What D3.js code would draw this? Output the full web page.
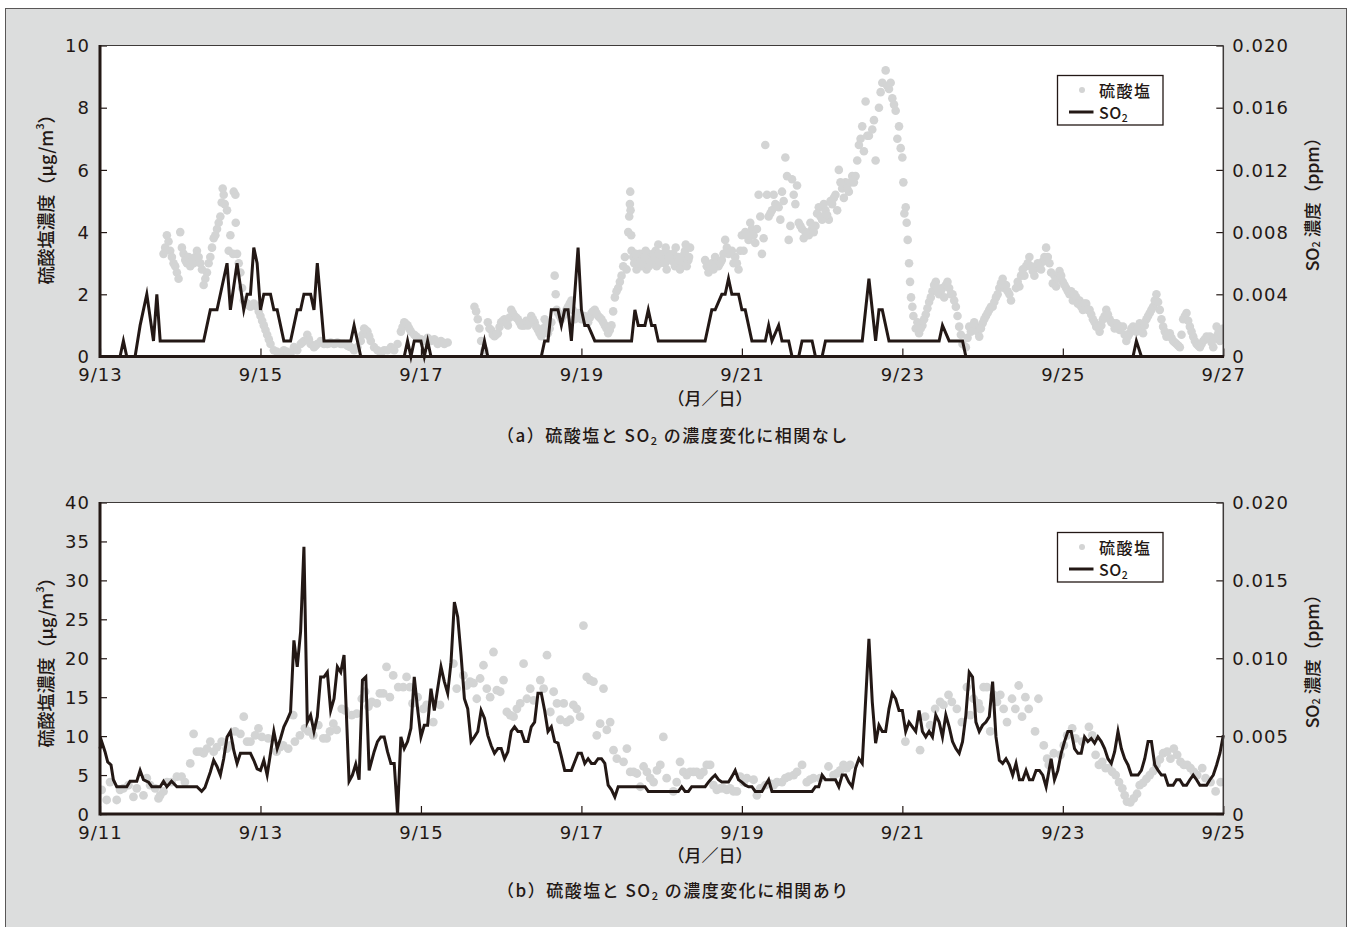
<!DOCTYPE html>
<html><head><meta charset="utf-8">
<script src="https://cdn.jsdelivr.net/npm/d3@7"></script>
<style>
body{margin:0;background:#fff;}
svg{display:block;}
</style></head><body>
<svg id="chart" width="1352" height="927"></svg>
<script>
// ---------------- DATA ----------------
// hours counted from the first date label of each panel (0..336 = 14 days)
const topDateLabels = ["9/13","9/15","9/17","9/19","9/21","9/23","9/25","9/27"];
const bottomDateLabels = ["9/11","9/13","9/15","9/17","9/19","9/21","9/23","9/25"];
const dateTickHours = [0,48,96,144,192,240,288,336];
const topLeftTicks = [0,2,4,6,8,10];
const topRightTicks = [0,0.004,0.008,0.012,0.016,0.020];
const bottomLeftTicks = [0,5,10,15,20,25,30,35,40];
const bottomRightTicks = [0,0.005,0.010,0.015,0.020];

// (a) sulfate, µg/m3, one value per hour (null = no data)
const topSulfateHourly = [
null,null,null,null,null,null,null,null,null,null,null,null,
null,null,null,null,null,null,null,3.3,3.9,3.4,3.0,2.7,
4.0,3.3,3.0,2.9,3.0,3.4,3.0,2.3,2.7,3.2,3.8,4.1,
4.5,5.2,4.7,3.9,5.3,3.3,2.7,1.8,1.7,1.6,1.7,1.6,
1.3,1.0,0.7,0.4,0.2,0.15,0.1,0.2,0.15,0.1,0.3,0.2,
0.4,0.5,0.7,0.4,0.3,0.4,0.5,0.4,0.4,0.45,0.4,0.45,
0.4,0.4,0.35,0.3,0.2,0.3,0.5,0.9,0.8,0.5,0.3,0.2,
0.1,0.2,0.2,0.3,0.2,0.4,0.8,1.1,1.0,0.8,0.7,0.6,
0.55,0.5,0.6,0.5,0.55,0.4,0.5,0.4,0.45,null,null,null,
null,null,null,null,1.6,1.2,0.5,0.2,1.1,0.85,0.65,0.75,
1.1,1.2,1.0,1.5,1.3,1.2,1.0,1.0,1.0,1.3,1.1,0.86,
0.65,1.2,0.75,1.1,2.6,1.4,1.2,1.4,1.6,1.8,1.2,1.4,
1.2,1.3,1.1,1.4,1.5,1.3,1.2,1.0,0.75,1.0,1.9,2.2,
2.6,3.2,4.0,3.4,3.0,3.1,2.9,3.2,3.3,3.0,3.1,3.6,
3.2,3.0,3.3,3.1,2.9,3.2,3.0,3.4,3.1,null,null,null,
null,3.1,2.7,3.0,3.2,2.9,3.1,3.75,3.3,3.4,3.2,2.8,
3.9,4.0,3.75,4.1,3.65,5.2,3.3,6.8,4.5,4.7,4.9,4.8,
5.3,6.4,3.75,5.7,4.9,4.3,4.1,4.0,3.9,4.1,4.2,4.8,
4.4,4.7,4.4,4.9,5.2,6.0,5.4,5.6,5.3,5.8,5.8,6.8,
7.4,8.2,7.1,7.3,6.3,8.0,8.8,9.2,8.6,8.3,7.9,7.4,
6.4,4.8,3.0,1.6,0.9,0.75,1.0,1.35,1.75,2.1,2.4,2.0,
2.2,2.3,2.2,2.0,1.6,0.96,0.4,0.3,0.96,0.85,0.96,0.64,
1.07,1.3,1.5,1.6,1.9,2.2,2.5,2.3,2.0,null,2.2,2.25,
2.8,2.9,3.2,2.75,2.85,2.95,3.05,3.5,3.0,2.35,2.25,2.75,
2.4,2.2,2.0,1.8,1.9,1.8,1.5,1.7,1.5,1.2,0.96,0.8,
1.2,1.5,1.2,1.07,1.07,0.85,0.96,0.5,0.75,0.96,0.8,1.07,
0.75,1.2,1.4,1.6,2.0,1.5,0.96,0.64,0.75,0.5,0.4,0.3,
1.2,1.4,0.96,0.64,0.4,0.3,0.5,0.64,0.64,0.3,0.96,0.5,
0.9
];
// (a) sulfate, additional sub-hourly readings [hour, µg/m3]
const topSulfateExtra = [
[19.5,3.5],[20.5,3.7],[21.5,3.2],[22.5,2.9],[23.5,2.5],[24.5,3.5],[25.5,3.1],[26.5,3.2],[27.5,3.1],
[28.5,3.2],[29.5,3.2],[30.5,2.8],[31.5,2.5],[32.5,3.0],[33.5,3.5],[34.5,3.9],[35.5,4.3],
[36.4,4.95],[36.7,5.4],[37.3,4.9],[38.5,3.4],[40.5,5.2],[40.6,4.3],[39.8,3.3],[41.5,3.0],[42.5,2.2],
[43.5,1.75],[44.5,1.65],[45.5,1.65],[46.5,1.65],[47.5,1.45],[48.5,1.15],[49.5,0.85],[50.5,0.55],
[60.5,0.45],[62.5,0.55],[64.5,0.35],[66.5,0.45],[68.5,0.42],[70.5,0.42],[72.5,0.4],[74.5,0.32],
[78.5,0.7],[79.5,0.85],[80.5,0.65],[90.5,0.95],[91.5,1.05],[92.5,0.9],[94.5,0.65],[96.5,0.5],
[98.5,0.55],[100.5,0.5],[102.5,0.45],
[112.5,1.45],[113.5,0.9],[116.5,0.9],[117.5,0.7],[118.5,0.7],[119.5,0.95],[120.5,1.15],[121.5,1.1],
[122.5,1.25],[123.5,1.4],[124.5,1.25],[125.5,1.1],[126.5,1.0],[127.5,1.15],[128.5,1.15],[129.5,1.2],
[130.5,0.95],[131.5,0.75],[132.5,0.9],[133.5,1.0],[134.5,0.9],[136.3,2.0],[136.6,1.5],[137.5,1.3],
[138.5,1.3],[139.5,1.5],[140.5,1.7],[141.4,1.5],[142.5,1.3],[143.5,1.3],[144.5,1.25],[145.5,1.2],
[146.5,1.25],[147.5,1.45],[148.5,1.4],[149.5,1.25],[150.5,1.1],[151.5,0.9],[152.5,0.85],[153.5,1.45],
[154.5,2.1],[155.5,2.4],[156.5,2.9],[157.5,2.8],
[158.3,4.5],[158.5,4.9],[158.6,5.3],[158.7,4.7],[158.9,3.9],
[159.5,3.2],[160.5,2.8],[161.5,3.3],[162.5,3.0],[163.5,2.8],[164.5,3.1],[165.5,3.3],[166.5,2.9],
[167.5,3.0],[168.5,3.3],[169.5,2.8],[170.5,3.1],[171.5,3.3],[172.5,3.1],[173.5,2.8],[174.5,3.2],
[175.5,2.9],[176.5,3.5],[160.2,3.3],[163.2,3.4],[166.2,3.4],[169.2,3.5],[172.2,3.5],[175.2,3.6],
[159.8,3.0],[161.2,3.0],[162.8,3.2],[164.2,2.9],[165.8,3.2],[167.2,3.3],[168.8,3.1],[170.2,3.2],
[171.8,3.0],[173.2,3.1],[174.8,3.3],[176.2,3.2],
[181.5,2.9],[182.5,2.9],[183.5,2.8],[184.5,3.0],[185.5,3.0],[186.5,3.3],[187.5,3.5],[188.5,3.35],
[189.5,3.0],[190.5,3.0],[191.5,3.4],[192.5,3.4],[193.5,3.9],[194.5,4.3],[195.5,3.9],[196.5,4.1],
[197.5,4.5],[198.5,3.8],[199.5,5.2],[200.5,4.6],[201.5,5.2],[202.5,4.85],[203.5,4.4],[204.5,5.0],
[205.5,5.8],[206.5,4.2],[207.5,5.2],[208.5,5.5],[209.5,4.2],[210.5,3.8],[211.5,3.95],[212.5,4.3],
[213.5,4.0],[214.5,4.6],[215.5,4.5],[216.5,4.9],[217.5,4.55],[218.5,5.0],[219.5,5.1],[220.5,4.7],
[221.5,5.6],[222.5,5.1],[223.5,5.4],[224.5,5.6],[225.5,5.6],[226.5,6.3],[227.5,7.0],
[228.5,6.6],[229.5,7.1],[231.5,7.6],[233.5,8.5],[235.5,8.7],[236.5,8.8],[237.5,8.1],[238.5,7.0],
[239.5,6.7],[240.3,5.6],[240.6,4.6],[241.3,4.3],[241.6,3.75],[242.3,2.4],[242.6,1.9],[243.3,1.3],
[244.5,1.1],
[245.5,0.9],[246.5,1.2],[247.5,1.55],[248.5,1.9],[249.5,2.3],[250.5,2.2],[251.5,2.1],[252.5,1.9],
[253.5,2.4],[254.5,2.0],[255.5,1.8],[256.5,1.3],[257.5,0.7],[259.5,0.6],[260.5,0.8],[261.5,1.1],
[262.5,0.8],[263.5,0.9],[264.5,1.2],[265.5,1.4],[266.5,1.6],[267.5,1.75],[268.5,2.0],[269.5,2.35],
[270.5,2.2],[271.5,2.1],[272.5,1.8],[274.5,2.4],[275.5,2.6],[276.5,2.6],[277.5,3.0],[278.5,2.9],
[279.5,2.6],[280.5,3.0],[281.5,2.8],[282.5,3.2],[283.5,3.2],[284.5,2.7],[285.5,2.6],[286.5,2.5],
[287.5,2.6],[288.5,2.3],[289.5,2.1],[290.5,2.1],[291.5,2.0],[292.5,1.7],[293.5,1.6],[294.5,1.7],
[295.5,1.5],[296.5,1.35],[297.5,1.1],[298.5,1.0],[299.5,1.0],[300.5,1.3],[301.5,1.35],[302.5,1.1],
[303.5,0.9],[304.5,1.0],[305.5,0.95],[306.5,0.7],[307.5,0.65],[308.5,0.9],[309.5,0.85],[310.5,0.95],
[311.5,0.9],[312.5,1.0],[313.5,1.3],[314.5,1.5],[315.5,1.8],[316.5,1.75],[317.5,1.2],[318.5,0.8],
[319.5,0.7],[320.5,0.6],[321.5,0.45],[322.5,0.35],[323.5,0.7],[324.5,1.3],[325.5,1.15],[326.5,0.8],
[327.5,0.5],[328.5,0.35],[329.5,0.4],[330.5,0.55],[331.5,0.6],[332.5,0.45],[333.5,0.6],[334.5,0.75],
[335.5,0.7]
];
// (a) SO2, ppm [hour, value]
const topSO2 = [
[0,0],[6,0],[7,0.001],[8,0],[10.5,0],[12,0.002],[14,0.004],[16,0.001],[17,0.004],[18,0.001],
[31,0.001],[33,0.003],[35,0.003],[38,0.006],[39,0.003],[41,0.006],[43,0.003],[44,0.004],[45,0.004],
[46,0.007],[47,0.006],[48,0.003],[49,0.004],[51,0.004],[52,0.003],[53,0.003],[55,0.001],[57,0.001],
[59,0.003],[60,0.003],[61,0.004],[63,0.004],[64,0.003],[65,0.006],[67,0.001],[75,0.001],[76,0.002],
[78,0],[91,0],[92,0.001],[93,0],[94,0.001],[96,0.001],[97,0],[98,0.001],[99,0],
[114,0],[115,0.001],[116,0],[132,0],[133,0.001],[134,0.001],[135,0.003],[137,0.003],[138,0.002],
[139,0.003],[140,0.003],[141,0.001],[143,0.007],[144,0.003],[145,0.002],[146,0.002],[147,0.0015],
[148,0.001],[159,0.001],[160,0.003],[161,0.002],[163,0.002],[164,0.003],[165,0.002],[166,0.002],
[167,0.001],[181,0.001],[183,0.003],[184,0.003],[186,0.004],[187,0.004],[188,0.005],[189,0.004],
[191,0.004],[192,0.003],[193,0.003],[195,0.001],[199,0.001],[200,0.002],[201,0.001],[203,0.002],
[204,0.001],[206,0.001],[207,0],[209,0],[210,0.001],[213,0.001],[214,0],[216,0],[217,0.001],
[228,0.001],[230,0.005],[232,0.001],[233,0.003],[234,0.003],[236,0.001],[251,0.001],[252,0.002],
[254,0.001],[258,0.001],[259,0],[309,0],[310,0.001],[311.5,0],[336,0]
];

// (b) sulfate, µg/m3 [hour, value]
const bottomSulfate = [
[0.5,3.1],[2,1.8],[3,4.1],[5,1.8],[6,3.1],[7,3.3],[8.5,3.7],[10,2.2],[11,3.3],[13,2.4],[14,4.6],
[15,3.7],[16.5,3.3],[17.5,2.0],[18,2.4],[19,2.9],[20,4.1],[21.4,4.1],[23,4.8],[24.4,4.8],[25.4,4.1],
[27,6.5],[28,10.3],[29,8.0],[30,8.0],[31,7.8],[32,8.4],[33,9.3],[34,8.0],[35,8.6],[36.4,9.3],
[37.9,8.4],[39,8.8],[40.4,10.6],[42,10.3],[43,12.5],[44,9.3],[45,9.3],[46.4,10.1],[47.4,11.0],
[48.4,9.9],[50.3,9.7],[52.8,8.0],[53.8,8.6],[54.8,8.8],[56.3,8.4],[57.8,12.7],[58.3,9.3],[59.8,10.1],
[61.3,11.0],[62.3,10.6],[63.8,10.1],[65.3,11.4],[66.8,9.7],[67.8,9.7],[68.8,10.6],[69.8,11.6],
[70.8,10.8],[72.3,13.5],[73.3,13.3],[75.3,12.7],[76.8,12.9],[78.3,14.8],[79.3,15.7],[80.3,13.8],
[81.3,14.4],[82.8,14.2],[83.7,15.5],[84.7,15.5],[85.7,18.9],[86.7,15.0],[87.7,17.8],[89.2,16.3],
[90.7,16.3],[91.7,17.6],[92.7,16.3],[93.5,14.2],[95,15.0],
[96.7,13.5],[97.7,14.0],[99.7,11.8],[101.7,14.0],[105.7,19.3],[106.7,16.1],[108.7,17.8],[109.7,16.5],
[110.7,17.0],[111.7,16.8],[112.7,14.8],[113.7,17.4],[114.7,19.1],[115.7,16.1],[116.7,15.0],[117.7,20.8],
[118.7,15.9],[119.7,15.7],[120.7,17.2],[121.7,13.1],[122.7,12.7],[123.7,12.5],[124.7,13.5],[125.7,14.2],
[126.7,19.3],[127.7,14.8],[128.7,16.1],[129.7,14.6],[131.7,17.2],[132.7,16.1],[133.7,20.4],[134.7,13.1],
[135.7,15.7],[136.7,14.2],[137.7,12.1],[138.7,14.2],[139.6,11.8],[140.6,12.1],[141.6,14.0],[142.6,13.5],
[143.6,12.5],[144.6,24.2],[145.6,17.6],[146.6,17.2],[147.6,17.0],[148.6,10.1],[149.6,11.6],[150.6,16.1],
[151.6,10.8],[152.6,11.8],[153.6,8.2],[154.6,7.1],[156.6,6.7],[157.6,8.4],[158.6,5.4],[159.6,5.4],
[160.6,5.2],[161.6,3.5],[162.6,6.1],[163.6,5.4],[164.6,4.6],[165.6,4.1],[166.6,5.6],[167.6,6.3],
[168.5,9.9],[169.5,4.6],[171.5,2.9],[172.5,4.1],[173.5,6.7],[174.5,5.4],[175.5,5.0],[176.5,5.4],
[177.5,5.4],[178.5,5.4],[179.5,5.0],[180.5,5.4],[181.5,6.3],[182.5,6.3],[183.5,3.7],[184.5,3.1],
[185.5,3.3],[186.5,3.3],[187.5,3.1],[188.5,3.3],[189.5,2.9],[190.5,2.9],
[191.5,4.8],[192.5,4.1],[193.5,4.6],[195.5,4.4],[196.5,2.4],[197.5,3.3],[199,3.7],[200.5,3.9],
[201.5,3.7],[202.5,4.1],[204,4.1],[205,4.6],[206,4.8],[207.5,5.0],[208.5,5.4],[210,6.3],[211.4,4.1],
[212.4,4.4],[213.4,4.6],[215.4,4.6],[217.9,6.1],[219.4,5.0],[220.4,5.2],[221.4,5.6],[222.4,6.3],
[223.4,5.9],[224.4,6.3],[240.9,9.3],[245.3,8.2],[246.8,12.5],[248.3,11.4],[249.8,13.5],[251.3,14.4],
[252.3,14.0],[253.8,15.3],[254.8,14.4],[256.3,13.5],[257.8,11.8],[259.3,16.3],[260.3,12.7],[261.3,14.8],
[262.8,14.2],[263.3,13.5],[264.3,16.3],[265.3,16.3],[266.3,10.6],[267.3,15.3],[268.3,14.4],[269.3,15.3],
[270.3,13.5],[271.3,11.8],[272.8,14.8],[273.8,13.5],[274.8,16.5],[275.8,12.5],[276.8,15.0],[277.8,13.5],
[279.7,10.6],[280.7,14.8],
[282.3,8.8],[283.3,7.1],[283.8,6.3],[285.3,7.8],[287.3,7.6],[288.3,8.8],[289.3,10.1],[290.8,11.0],
[291.8,9.7],[293.8,9.3],[295.8,11.2],[296.8,10.1],[297.8,7.6],[298.8,6.3],[299.8,6.7],[300.8,5.9],
[301.8,5.9],[302.8,5.4],[303.8,5.0],[304.8,4.1],[305.8,3.3],[306.5,2.4],[307.2,1.6],[308.2,1.5],
[309.2,2.0],[310.2,2.6],[311,3.7],[312,4.0],[313,4.5],[314,5.0],[315,5.5],[316,6.3],[317,7.0],
[318,7.8],[319.2,8.0],[320.2,7.1],[321.2,8.4],[322.2,7.6],[323.2,6.7],[324.2,6.3],[325.2,6.3],
[326.2,5.9],[327.2,5.4],[328.2,5.0],[329.7,5.9],[330.7,4.6],[332.2,4.1],[333.7,2.9],[335.2,4.1]
];
// (b) SO2, ppm [hour, value]
const bottomSO2 = [
[0,0.0042],[0.5,0.00465],[1.5,0.004],[2.3,0.00335],[3.3,0.00315],[4,0.0022],[5,0.00175],[8,0.00175],
[9,0.0021],[11,0.0021],[12,0.0028],[13,0.0022],[14.5,0.00205],[15.5,0.00175],[18,0.00175],[19,0.0021],
[20,0.00175],[21.4,0.0021],[23,0.00175],[29,0.00175],[30.4,0.00145],[31.4,0.0017],[33,0.0027],
[34,0.00345],[35,0.00305],[36,0.0025],[37,0.00355],[38,0.00495],[39,0.0053],[40,0.0041],[41,0.00325],
[42,0.0039],[45,0.0039],[46,0.00345],[47,0.0029],[48,0.0028],[49,0.00345],[50,0.0025],[51,0.0039],
[52,0.0053],[53,0.0042],[54,0.00485],[55,0.0056],[56,0.00605],[57,0.00655],[58,0.01115],[59,0.00945],
[60,0.0117],[61,0.01715],[62,0.0059],[63,0.00635],[64,0.0053],[65,0.00625],[66,0.0088],[67,0.0088],
[68,0.0091],[69,0.00665],[70,0.0074],[71,0.00945],[72,0.0091],[73,0.0102],[74.5,0.0021],[75.5,0.0025],
[76.5,0.0032],[77.5,0.0022],[78.5,0.0086],[79.5,0.0088],[80.5,0.0028],[82,0.004],[83,0.00465],
[84,0.00495],[85,0.00495],[86,0.004],[87,0.00325],[88,0.00325],[89,0],[90,0.00495],[91,0.0042],
[92,0.00465],[93,0.0055],[94,0.0088],[95,0.00675],[96,0.00495],[97,0.0057],[98,0.0057],[99,0.00805],
[100,0.00665],[101,0.00805],[102,0.00945],[103,0.0085],[104,0.00775],[105,0.00975],[106,0.0136],
[107,0.01265],[108,0.0102],[109,0.0074],[110,0.00675],[111,0.00465],[112,0.00495],[113,0.0053],
[114,0.00665],[115,0.00615],[116,0.00505],[117,0.0044],[118,0.0039],[119,0.0042],[120,0.0042],
[121,0.00355],[122,0.004],[123,0.0053],[124,0.0056],[125,0.0053],[126,0.0053],[127,0.00465],
[128,0.00465],[129,0.0056],[130,0.0059],[131,0.00775],[132,0.00775],[133,0.00665],[134,0.0053],
[135,0.0056],[136,0.00465],[137,0.00455],[138,0.0037],[139,0.0028],[141,0.0028],[142,0.00335],
[143,0.0039],[144,0.0039],[145,0.00325],[146,0.00355],[147,0.00325],[148,0.00325],[149,0.00355],
[150,0.00355],[151,0.00325],[152,0.00185],[153,0.00155],[154,0.0011],[155,0.00175],[163,0.00175],
[164,0.00145],[173,0.00145],[174,0.00175],[175,0.00145],[176,0.00145],[177,0.00175],[181,0.00175],
[182,0.00205],[183,0.0023],[184,0.0025],[185,0.0022],[186,0.00205],[188,0.00205],[189,0.0024],
[190,0.0028],[191,0.0022],[192,0.00205],[193,0.00185],[194,0.00175],[195,0.00175],[196,0.00145],
[198,0.00145],[199,0.00185],[200,0.0022],[201,0.00145],[213,0.00145],[214,0.00175],[215,0.00175],
[216,0.0025],[217,0.0022],[220,0.0022],[221,0.00175],[222,0.0025],[223,0.0025],[224,0.00205],
[225,0.00175],[226,0.00295],[227,0.00355],[228,0.00325],[230,0.01125],[231,0.0072],[232,0.00455],
[233,0.0057],[234,0.0053],[235,0.0053],[236,0.00675],[237,0.00775],[238,0.0074],[239,0.00665],
[240,0.00665],[241,0.0053],[242,0.0059],[243,0.0056],[244,0.0053],[245,0.00665],[246,0.0053],
[247,0.00495],[248,0.0053],[249,0.00495],[250,0.00635],[251,0.0059],[252,0.00495],[253,0.00635],
[254,0.0056],[255,0.00465],[256,0.0042],[257,0.0039],[258,0.00465],[259,0.00635],[260,0.0091],
[261,0.0088],[262,0.0059],[263,0.0053],[264,0.0057],[265,0.0059],[266,0.00625],[267,0.0085],
[268,0.00495],[269,0.00345],[270,0.00325],[271,0.00355],[272,0.00315],[273,0.0025],[274,0.00325],
[275,0.0022],[276,0.0022],[277,0.0028],[278,0.0022],[279,0.0022],[280,0.0028],[281,0.0028],
[282,0.0025],[283,0.00175],[284.5,0.00355],[285.5,0.0022],[286.5,0.0028],[287.5,0.0039],
[288.5,0.00465],[289.5,0.0053],[290.5,0.0053],[291.5,0.0042],[292.5,0.0039],[293.5,0.0039],
[294.5,0.00495],[295.5,0.00465],[296.5,0.00485],[297.5,0.00455],[298.5,0.00495],[299.5,0.00465],
[300.5,0.0042],[301.5,0.00355],[302.5,0.00325],[303.5,0.004],[304.5,0.0053],[305.5,0.0042],
[306.5,0.00355],[307.5,0.00315],[308.5,0.0025],[310.5,0.0025],[311.5,0.0028],[312.5,0.00355],
[313.5,0.00465],[314.5,0.00465],[315.5,0.00315],[316.5,0.0028],[317.5,0.0025],[318.5,0.0025],
[319.5,0.00185],[321,0.00185],[322,0.0022],[323,0.0022],[324,0.00185],[325,0.00185],[326,0.0022],
[327,0.0025],[328,0.0022],[329,0.00185],[331,0.00185],[332,0.0022],[333,0.0025],[334,0.00315],
[335,0.0039],[336,0.00505]
];

// ---------------- DRAWING ----------------
const svg = d3.select("#chart");
const INK = "#231815", DOT = "#d3d4d4", BG = "#dcdddd";
const NUM_FONT = "'DejaVu Sans', sans-serif";
const JP_FONT = "'Noto Sans CJK JP', 'Noto Sans', sans-serif";
const JP_WEIGHT = 500;

svg.append("rect").attr("x",5.5).attr("y",8.5).attr("width",1341).attr("height",940)
  .attr("fill",BG).attr("stroke","#595757").attr("stroke-width",1);

const topDots = topSulfateHourly.map((v,i)=>[i,v]).filter(d=>d[1]!==null).concat(topSulfateExtra);

function drawPanel(c){
  const g = svg.append("g");
  const x = d3.scaleLinear().domain([0,336]).range([c.left,c.right]);
  const yL = d3.scaleLinear().domain([0,c.leftMax]).range([c.bottom,c.top]);
  const yR = d3.scaleLinear().domain([0,0.02]).range([c.bottom,c.top]);

  g.append("rect").attr("x",c.left).attr("y",c.top).attr("width",c.right-c.left)
    .attr("height",c.bottom-c.top).attr("fill","#fff");

  svg.append("clipPath").attr("id","clip"+c.id).append("rect")
    .attr("x",c.left).attr("y",c.top).attr("width",c.right-c.left).attr("height",c.bottom-c.top);

  g.append("g").attr("clip-path",`url(#clip${c.id})`)
    .selectAll("circle").data(c.dots).join("circle")
    .attr("cx",d=>x(d[0])).attr("cy",d=>yL(d[1])).attr("r",c.r).attr("fill",DOT);

  const line = d3.line().x(d=>x(d[0])).y(d=>yR(d[1]));
  g.append("path").datum(c.so2).attr("d",line).attr("fill","none")
    .attr("stroke",INK).attr("stroke-width",3).attr("stroke-linejoin","miter").attr("stroke-miterlimit",6);

  // axes
  const ax = g.append("g").attr("transform",`translate(0,${c.bottom})`)
    .call(d3.axisBottom(x).tickValues(dateTickHours).tickFormat((d,i)=>c.dateLabels[i])
      .tickSizeInner(-8).tickSizeOuter(0).tickPadding(12));
  const ayl = g.append("g").attr("transform",`translate(${c.left},0)`)
    .call(d3.axisLeft(yL).tickValues(c.leftTicks).tickFormat(d3.format("d"))
      .tickSizeInner(-7).tickSizeOuter(0).tickPadding(10));
  const ayr = g.append("g").attr("transform",`translate(${c.right},0)`)
    .call(d3.axisRight(yR).tickValues(c.rightTicks).tickFormat(d=>d===0?"0":d3.format(".3f")(d))
      .tickSizeInner(-7).tickSizeOuter(0).tickPadding(9));
  [ax,ayl,ayr].forEach(a=>{
    a.select(".domain").remove();
    a.selectAll(".tick line").attr("stroke",INK).attr("stroke-width",1.2);
    a.selectAll(".tick text").attr("fill",INK).attr("font-family",NUM_FONT)
      .attr("font-size",18).attr("letter-spacing","1px");
  });
  ayl.selectAll(".tick text").attr("dy","0.34em");
  ayr.selectAll(".tick text").attr("dy","0.34em");

  // frame
  g.append("line").attr("x1",c.left).attr("x2",c.right).attr("y1",c.top).attr("y2",c.top)
    .attr("stroke","#3e3a39").attr("stroke-width",1.2);
  g.append("line").attr("x1",c.right).attr("x2",c.right).attr("y1",c.top).attr("y2",c.bottom)
    .attr("stroke","#3e3a39").attr("stroke-width",1.5);
  g.append("line").attr("x1",c.left).attr("x2",c.left).attr("y1",c.top-0.6).attr("y2",c.bottom+1.5)
    .attr("stroke",INK).attr("stroke-width",3);
  g.append("line").attr("x1",c.left).attr("x2",c.right+0.75).attr("y1",c.bottom).attr("y2",c.bottom)
    .attr("stroke",INK).attr("stroke-width",3);

  // left title
  const lt = svg.append("text").attr("transform",`translate(45,${c.leftTitleY}) rotate(-90)`)
    .attr("text-anchor","middle").attr("dominant-baseline","central")
    .attr("font-family",JP_FONT).attr("font-weight",JP_WEIGHT).attr("font-size",18).attr("fill",INK);
  lt.append("tspan").text("硫酸塩濃度（µg/m");
  lt.append("tspan").text("3").attr("font-size",11).attr("dy",-6);
  lt.append("tspan").text("）").attr("dy",6);

  // right title
  const rt = svg.append("text").attr("transform",`translate(1311,${c.rightTitleY}) rotate(-90)`)
    .attr("text-anchor","middle").attr("dominant-baseline","central")
    .attr("font-family",JP_FONT).attr("font-weight",JP_WEIGHT).attr("font-size",17.5).attr("fill",INK);
  rt.append("tspan").text("SO");
  rt.append("tspan").text("2").attr("font-size",11).attr("dy",4);
  rt.append("tspan").text(" 濃度（ppm）").attr("dy",-4);

  // x title
  svg.append("text").attr("x",710).attr("y",c.bottom+48).attr("text-anchor","middle")
    .attr("font-family",JP_FONT).attr("font-weight",JP_WEIGHT).attr("font-size",17).attr("fill",INK).text("（月／日）");

  // caption
  const cap = svg.append("text").attr("x",497).attr("y",c.captionY)
    .attr("font-family",JP_FONT).attr("font-weight",JP_WEIGHT).attr("font-size",17)
    .attr("letter-spacing","1.5px").attr("fill",INK);
  cap.append("tspan").text(c.captionA);
  cap.append("tspan").text("2").attr("font-size",11).attr("dy",3);
  cap.append("tspan").text(c.captionB).attr("dy",-3);

  // legend
  const lg = svg.append("g").attr("transform",`translate(1057.5,${c.legendTop})`);
  lg.append("rect").attr("width",105.5).attr("height",49.5).attr("fill","#fff")
    .attr("stroke",INK).attr("stroke-width",1.3);
  lg.append("circle").attr("cx",24.5).attr("cy",14.5).attr("r",3).attr("fill",DOT);
  lg.append("text").attr("x",41.5).attr("y",21).attr("font-family",JP_FONT).attr("font-weight",JP_WEIGHT)
    .attr("font-size",16).attr("letter-spacing","1.5px").attr("fill",INK).text("硫酸塩");
  lg.append("line").attr("x1",11.5).attr("x2",36).attr("y1",36.5).attr("y2",36.5)
    .attr("stroke",INK).attr("stroke-width",3);
  const lso = lg.append("text").attr("x",41.5).attr("y",43).attr("font-family",JP_FONT)
    .attr("font-weight",JP_WEIGHT).attr("font-size",16).attr("letter-spacing","0.5px").attr("fill",INK);
  lso.append("tspan").text("SO");
  lso.append("tspan").text("2").attr("font-size",10.5).attr("dy",3);
}

drawPanel({id:"a", left:100, right:1223.3, top:45.5, bottom:356.5, leftMax:10,
  leftTicks:topLeftTicks, rightTicks:topRightTicks, dateLabels:topDateLabels,
  dots:topDots, so2:topSO2, r:4.3, leftTitleY:195, rightTitleY:200, legendTop:75.5,
  captionY:442, captionA:"（a）硫酸塩と SO", captionB:" の濃度変化に相関なし"});

drawPanel({id:"b", left:100, right:1223.3, top:502.5, bottom:814, leftMax:40,
  leftTicks:bottomLeftTicks, rightTicks:bottomRightTicks, dateLabels:bottomDateLabels,
  dots:bottomSulfate, so2:bottomSO2, r:4.4, leftTitleY:658, rightTitleY:657, legendTop:532.5,
  captionY:897, captionA:"（b）硫酸塩と SO", captionB:" の濃度変化に相関あり"});
</script></body></html>
